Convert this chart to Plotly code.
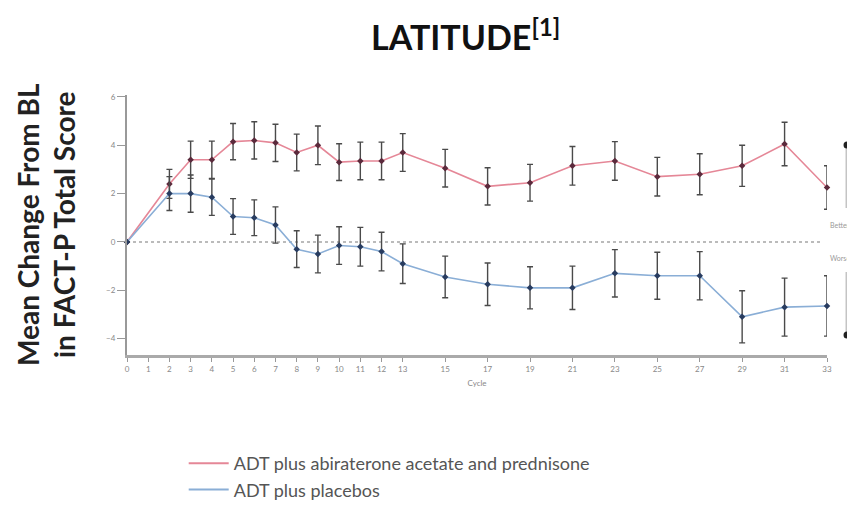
import plotly.graph_objects as go

cycles = [0, 2, 3, 4, 5, 6, 7, 8, 9, 10, 11, 12, 13, 15, 17, 19, 21, 23, 25, 27, 29, 31, 33]
abi_mean = [0, 2.4, 3.4, 3.4, 4.15, 4.2, 4.1, 3.7, 4.0, 3.3, 3.35, 3.35, 3.7, 3.05, 2.3, 2.45,
            3.15, 3.35, 2.7, 2.8, 3.15, 4.05, 2.25]
abi_err = [0, 0.6, 0.77, 0.77, 0.75, 0.77, 0.77, 0.76, 0.8, 0.76, 0.78, 0.78, 0.78, 0.78, 0.77,
           0.76, 0.8, 0.8, 0.8, 0.85, 0.85, 0.9, 0.9]
pla_mean = [0, 2.0, 2.0, 1.85, 1.05, 1.0, 0.7, -0.3, -0.5, -0.15, -0.2, -0.4, -0.9, -1.45, -1.75,
            -1.9, -1.9, -1.3, -1.4, -1.4, -3.1, -2.7, -2.65]
pla_err = [0, 0.7, 0.77, 0.75, 0.74, 0.74, 0.75, 0.76, 0.78, 0.78, 0.8, 0.8, 0.82, 0.86, 0.88,
           0.87, 0.9, 0.98, 0.97, 1.0, 1.08, 1.2, 1.25]
tick_vals = [0, 1, 2, 3, 4, 5, 6, 7, 8, 9, 10, 11, 12, 13, 15, 17, 19, 21, 23, 25, 27, 29, 31, 33]
y_ticks = [-4, -2, 0, 2, 4, 6]
series_names = ["ADT plus abiraterone acetate and prednisone", "ADT plus placebos"]

RED_LINE = "#e58797"
BLUE_LINE = "#8aaed6"
RED_MK = "#5b2a3c"
BLUE_MK = "#283c60"
ERR = "#4a4a4a"
FONT = "Lato, Open Sans, sans-serif"

fig = go.Figure()
for mean, err, lc, mc in [(abi_mean, abi_err, RED_LINE, RED_MK), (pla_mean, pla_err, BLUE_LINE, BLUE_MK)]:
    fig.add_trace(go.Scatter(
        x=cycles, y=mean, mode="lines+markers",
        line=dict(color=lc, width=1.6),
        marker=dict(color=mc, size=5, symbol="diamond"),
        error_y=dict(type="data", array=err, visible=True, color=ERR, thickness=1.4, width=3),
        showlegend=False, cliponaxis=False,
    ))
for name, lc in zip(series_names, [RED_LINE, BLUE_LINE]):
    fig.add_trace(go.Scatter(x=[None], y=[None], mode="lines", name=name,
                             line=dict(color=lc, width=2)))

# plot area: 700 x 260 px
XD = 1.0286
fig.update_layout(
    width=855, height=516,
    margin=dict(l=119, r=36, t=87, b=169),
    paper_bgcolor="white", plot_bgcolor="white",
    font=dict(family=FONT, color="#555"),
    xaxis=dict(range=[0, 33], tickvals=tick_vals, ticktext=[str(v) for v in tick_vals],
               showgrid=False, zeroline=False, showline=True, linecolor="#aaa", linewidth=3,
               ticks="outside", ticklen=4, tickcolor="#999", tickfont=dict(size=8, color="#888"),
               title=dict(text="Cycle", font=dict(size=8, color="#888"), standoff=8)),
    yaxis=dict(range=[-4.68, 6.08], tickvals=y_ticks, showgrid=False, zeroline=False,
               showline=True, linecolor="#999", linewidth=2, ticks="outside", ticklen=8,
               tickcolor="#999", tickfont=dict(size=8, color="#888")),
    legend=dict(x=0.081, y=-0.346, xanchor="left", yanchor="top", font=dict(size=18, color="#555"),
                tracegroupgap=0, itemwidth=40, bgcolor="rgba(0,0,0,0)"),
    shapes=[
        dict(type="line", xref="paper", x0=0, x1=0.99, yref="y", y0=0, y1=0,
             line=dict(color="#bbb", width=2, dash="dot"), layer="below"),
        dict(type="line", xref="paper", x0=XD, x1=XD, yref="paper", y0=0.565, y1=0.808,
             line=dict(color="#c4c4c4", width=3)),
        dict(type="line", xref="paper", x0=XD, x1=XD, yref="paper", y0=0.077, y1=0.319,
             line=dict(color="#c4c4c4", width=3)),
        dict(type="circle", xref="paper", yref="paper", x0=XD - 0.005, x1=XD + 0.005,
             y0=0.808 - 0.0135, y1=0.808 + 0.0135, fillcolor="#222", line=dict(width=0)),
        dict(type="circle", xref="paper", yref="paper", x0=XD - 0.005, x1=XD + 0.005,
             y0=0.077 - 0.0135, y1=0.077 + 0.0135, fillcolor="#222", line=dict(width=0)),
    ],
    annotations=[
        dict(text="<b>LATITUDE<sup>[1]</sup></b>", x=0.483, y=1.232, xref="paper", yref="paper",
             xanchor="center", yanchor="middle", showarrow=False,
             font=dict(size=34, color="#111", family=FONT)),
        dict(text="<b>Mean Change From BL<br>in FACT-P Total Score</b>", textangle=-90,
             x=0, y=0.5, xref="paper", yref="paper", xanchor="right", yanchor="middle",
             xshift=-44, yshift=0, showarrow=False,
             font=dict(size=28, color="#222", family=FONT)),
        dict(text="Better", x=1.002, y=0.5, xref="paper", yref="paper", xanchor="left",
             showarrow=False, font=dict(size=7, color="#999")),
        dict(text="Worse", x=1.002, y=0.373, xref="paper", yref="paper", xanchor="left",
             showarrow=False, font=dict(size=7, color="#999")),
    ],
)
fig.write_html("out.html")
